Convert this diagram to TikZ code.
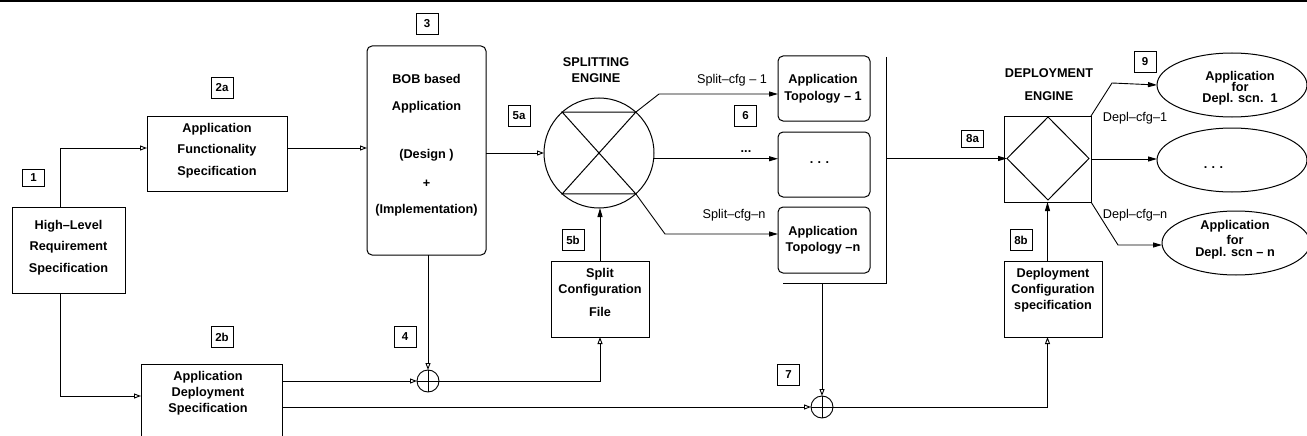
\documentclass[tikz,border=0pt]{standalone}
\usepackage{fontspec}
\setmainfont{Liberation Sans}
\usetikzlibrary{arrows.meta,shapes.geometric}
\begin{document}
\begin{tikzpicture}[x=1pt,y=-1pt,
  box/.style={draw,line width=1pt,rectangle,inner sep=0pt,outer sep=0pt},
  rbox/.style={box,rounded corners=5pt},
  tag/.style={draw,line width=0.9pt,font=\fontsize{11.5}{12}\selectfont\bfseries,minimum width=22pt,minimum height=21pt,inner sep=0pt},
  txt/.style={font=\fontsize{12.7}{16}\selectfont\bfseries,align=center,inner sep=0pt},
  lab/.style={font=\fontsize{12.7}{15}\selectfont,inner sep=0pt},
  con/.style={line width=0.9pt},
  oarr/.style={con,-{Triangle[open,length=7pt,width=5pt]}},
  farr/.style={con,-{Triangle[length=9pt,width=5pt]}},
  sumc/.style={circle,draw,line width=0.9pt,minimum size=22pt,inner sep=0pt,outer sep=0pt,
    path picture={\draw[line width=0.9pt] (path picture bounding box.north) -- (path picture bounding box.south)
      (path picture bounding box.west) -- (path picture bounding box.east);}}
]
\useasboundingbox (0,0) rectangle (1307,436);
\clip (0,0) rectangle (1307,436);
% top rule
\coordinate (TL) at (0,1.2);
\coordinate (TR) at (1307,1.2);
\draw[line width=2.2pt] (TL) -- (TR);

% boxes
\node[box,minimum width=113pt,minimum height=86pt] (HL) at (68.5,250) {};
\node[box,minimum width=140pt,minimum height=75pt] (A2a) at (217,153.5) {};
\node[rbox,minimum width=119pt,minimum height=209pt] (BOB) at (426.5,150.5) {};
\node[box,minimum width=141pt,minimum height=90pt] (A2b) at (211.5,409) {};
\node[box,minimum width=98pt,minimum height=76pt] (SCF) at (600,299) {};
\node[circle,draw,line width=1pt,minimum size=110pt,inner sep=0pt,outer sep=0pt] (SE) at (599,153) {};
\node[rbox,minimum width=92pt,minimum height=65pt] (T1) at (824,88.5) {};
\node[rbox,minimum width=92pt,minimum height=65pt] (T2) at (824,164.5) {};
\node[rbox,minimum width=92pt,minimum height=66pt] (T3) at (824,240) {};
\node[box,minimum width=87pt,minimum height=86pt] (DEsq) at (1047.5,159) {};
\node[diamond,draw,line width=1pt,minimum width=82pt,minimum height=83pt,inner sep=0pt,outer sep=0pt] (DEd) at (1048,158.5) {};
\node[box,minimum width=98pt,minimum height=76pt] (DCS) at (1053,299) {};
\node[ellipse,draw,line width=1pt,minimum width=150pt,minimum height=64pt,inner sep=0pt,outer sep=0pt] (E1) at (1232,85) {};
\node[ellipse,draw,line width=1pt,minimum width=150pt,minimum height=64pt,inner sep=0pt,outer sep=0pt] (E2) at (1232,160) {};
\node[ellipse,draw,line width=1pt,minimum width=148pt,minimum height=64pt,inner sep=0pt,outer sep=0pt] (E3) at (1236,243) {};
\node[sumc] (S1) at (428,381) {};
\node[sumc] (S2) at (822,407) {};

% hourglass in splitting engine
\draw[line width=1pt] (SE.132) -- (SE.48) -- (SE.228) -- (SE.312) -- cycle;

% bracket
\coordinate (BrT) at (886,57);
\coordinate (BrB) at (886,283);
\coordinate (BrL) at (783,283);
\draw[line width=1pt] (BrT) -- (BrB) -- (BrL);

% box texts
\node[txt] (HLt) at (68.5,247.5) {High–Level\\[5.5pt]Requirement\\[5.5pt]Specification};
\node[txt] (A2at) at (217,150.5) {Application\\[5.5pt]Functionality\\[5.5pt]Specification};
\node[txt] (BOBt) at (426.5,145) {BOB based\\[11pt]Application\\[32pt](Design )\\[13pt]+\\[10pt](Implementation)};
\node[txt] (A2bt) at (208,393.3) {Application\\Deployment\\[-0.5pt]Specification};
\node[txt] (SCFt) at (600,292.5) {Split\\Configuration\\[7pt]File};
\node[txt] (T1t) at (823,88.8) {Application\\[1pt]Topology – 1};
\node[txt] (T2t) at (819.5,163) {.\,\,.\,\,.};
\node[txt] (T3t) at (823,239.8) {Application\\[0pt]Topology –n};
\node[txt] (DCSt) at (1053,290.3) {Deployment\\Configuration\\specification};
\node[txt] (E1t) at (1240,87.8) {Application\\[-5pt]for\\[-5pt]Depl. scn.~~1};
\node[txt] (E2t) at (1213.5,168) {.\,\,.\,\,.};
\node[txt] (E3t) at (1235,239.8) {Application\\[-1pt]for\\[-4pt]Depl. scn – n};
\node[txt] (SEt) at (596,70) {SPLITTING\\ENGINE};
\node[txt] (DEt) at (1049,84.5) {DEPLOYMENT\\[7pt]ENGINE};

% tags
\node[tag,minimum height=17pt] (g1) at (33.5,177.5) {1};
\node[tag] (g2a) at (222,88) {2a};
\node[tag] (g2b) at (222,337) {2b};
\node[tag] (g3) at (427,23.5) {3};
\node[tag] (g4) at (405,337) {4};
\node[tag] (g5a) at (519,115.5) {5a};
\node[tag] (g5b) at (573,240) {5b};
\node[tag] (g6) at (745.5,115.5) {6};
\node[tag] (g7) at (788.5,374.5) {7};
\node[tag,minimum height=17pt] (g8a) at (972.5,139) {8a};
\node[tag] (g8b) at (1021,240) {8b};
\node[tag] (g9) at (1145,61.5) {9};

% connector labels
\node[lab] (l1) at (732,80.5) {Split–cfg – 1};
\node[txt] (lm) at (746,152) {...};
\node[lab] (ln) at (734,215.5) {Split–cfg–n};
\node[lab] (d1) at (1135,118.5) {Depl–cfg–1};
\node[lab] (dn) at (1135,215.5) {Depl–cfg–n};

% connectors
\draw[oarr] (HL.north -| 60,0) |- (A2a.west |- 0,148);
\draw[oarr] (HL.south -| 60,0) |- (A2b.west |- 0,396);
\draw[oarr] (A2a.east |- 0,148) -- (BOB.west |- 0,148);
\draw[oarr] (BOB.south -| S1.north) -- (S1.north);
\draw[oarr] (A2b.east |- S1.west) -- (S1.west);
\draw[oarr] (A2b.east |- S2.west) -- (S2.west);
\draw[oarr] (S1.east) -| (SCF.south);
\draw[farr] (SCF.north) -- (SCF.north |- SE.south);
\draw[oarr] (BOB.east |- SE.west) -- (SE.west);
\draw[farr] (SE.48) -- (659,94) -- (T1.west |- 0,94);
\draw[farr] (SE.-6) -- (T2.west |- SE.-6);
\draw[farr] (SE.312) -- (665,234) -- (T3.west |- 0,234);
\draw[oarr] (S2.north |- BrB) -- (S2.north);
\draw[farr] (BrB |- DEd.west) -- (DEd.west);
\draw[oarr] (S2.east) -| (DCS.south -| DEsq.south);
\draw[farr] (DCS.north -| DEsq.south) -- (DEsq.south);
\draw[farr] (DEsq.north east) -- (1112,83) -- (E1.west);
\draw[farr] (DEsq.east) -- (E2.west |- DEsq.east);
\draw[farr] (DEsq.south east) -- (1118,245) -- (E3.west |- 0,245);
\end{tikzpicture}
\end{document}
